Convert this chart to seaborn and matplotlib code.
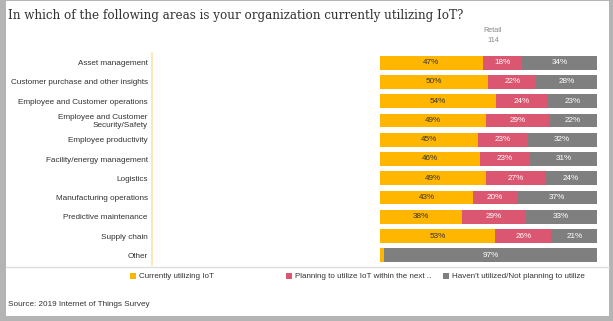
import matplotlib
matplotlib.use("Agg")
import matplotlib.pyplot as plt
import seaborn as sns
import numpy as np
import pandas as pd
from matplotlib.patches import Rectangle

categories = ["Asset management", "Customer purchase and other insights",
              "Employee and Customer operations", "Employee and Customer\nSecurity/Safety",
              "Employee productivity", "Facility/energy management", "Logistics",
              "Manufacturing operations", "Predictive maintenance", "Supply chain", "Other"]
current = [47, 50, 54, 49, 45, 46, 49, 43, 38, 53, 2]
planning = [18, 22, 24, 29, 23, 23, 27, 20, 29, 26, 0]
not_planning = [34, 28, 23, 22, 32, 31, 24, 37, 33, 21, 97]
series_names = ["Currently utilizing IoT", "Planning to utilize IoT within the next ..",
                "Haven't utilized/Not planning to utilize"]
header_group = "Retail"
header_n = "114"
title = "In which of the following areas is your organization currently utilizing IoT?"
source = "Source: 2019 Internet of Things Survey"

colors = ["#FFB600", "#DB5670", "#7F7F7F"]
text_colors = ["#333333", "white", "white"]

sns.set_theme(style="white")
plt.rcParams['font.family'] = ['Liberation Sans', 'DejaVu Sans']

W, H = 613, 321
fig = plt.figure(figsize=(W / 100, H / 100), dpi=100)
fig.patch.set_facecolor("#b4b4b4")
fig.patches.append(Rectangle((6 / W, 1 - 316 / H), (609 - 6) / W, 315 / H,
                             transform=fig.transFigure, facecolor="white",
                             edgecolor="none", zorder=-10))

df = pd.DataFrame({"cat": categories, "c": current, "p": planning, "n": not_planning})
tot = df[["c", "p", "n"]].sum(axis=1)
df["c_s"] = df["c"] / tot * 100
df["p_s"] = df["p"] / tot * 100
df["n_s"] = df["n"] / tot * 100
df["cum1"] = df["c_s"]
df["cum2"] = df["c_s"] + df["p_s"]
df["cum3"] = df["cum2"] + df["n_s"]

ax = fig.add_axes([152 / W, 1 - 265 / H, (597 - 152) / W, (265 - 53) / H])
for col, colr in zip(["cum3", "cum2", "cum1"], [colors[2], colors[1], colors[0]]):
    sns.barplot(data=df, y="cat", x=col, orient="h", color=colr, width=0.72,
                saturation=1, ax=ax, edgecolor="none", linewidth=0)

ax.set_xlim(-105, 100)
ax.set_xlabel("")
ax.set_ylabel("")
ax.set_xticks([])
ax.tick_params(axis="y", length=0, pad=3, labelsize=5.9, labelcolor="#333333")
for s in ["top", "right", "bottom"]:
    ax.spines[s].set_visible(False)
ax.spines["left"].set_color("#FFE2A6")
ax.spines["left"].set_linewidth(1.2)
ax.set_facecolor("none")

for i in range(len(df)):
    starts = [0, df["cum1"][i], df["cum2"][i]]
    widths = [df["c_s"][i], df["p_s"][i], df["n_s"][i]]
    vals = [df["c"][i], df["p"][i], df["n"][i]]
    for k in range(3):
        if vals[k] >= 5:
            ax.text(starts[k] + widths[k] / 2, i, f"{vals[k]}%", ha="center", va="center",
                    fontsize=5.9, color=text_colors[k])

fig.text(8 / W, 1 - 15 / H, title, family=["DejaVu Serif"], fontsize=8.6,
         color="#333333", ha="left", va="center")
fig.text(493 / W, 1 - 31 / H, header_group, fontsize=5.2, color="#888888", ha="center", va="center")
fig.text(493 / W, 1 - 40 / H, header_n, fontsize=5.2, color="#888888", ha="center", va="center")

fig.lines.append(plt.Line2D([6 / W, 609 / W], [1 - 266.5 / H, 1 - 266.5 / H],
                            transform=fig.transFigure, color="#dddddd", linewidth=1))

leg_x = [130, 286, 443]
for x, name, colr in zip(leg_x, series_names, colors):
    fig.patches.append(Rectangle((x / W, 1 - 279 / H), 6 / W, 6 / H,
                                 transform=fig.transFigure, facecolor=colr, edgecolor="none"))
    fig.text((x + 9) / W, 1 - 276 / H, name, fontsize=5.8, color="#333333", ha="left", va="center")

fig.text(8 / W, 1 - 305 / H, source, fontsize=5.9, color="#333333", ha="left", va="center")

fig.savefig("out.png", dpi=100, facecolor=fig.get_facecolor())
